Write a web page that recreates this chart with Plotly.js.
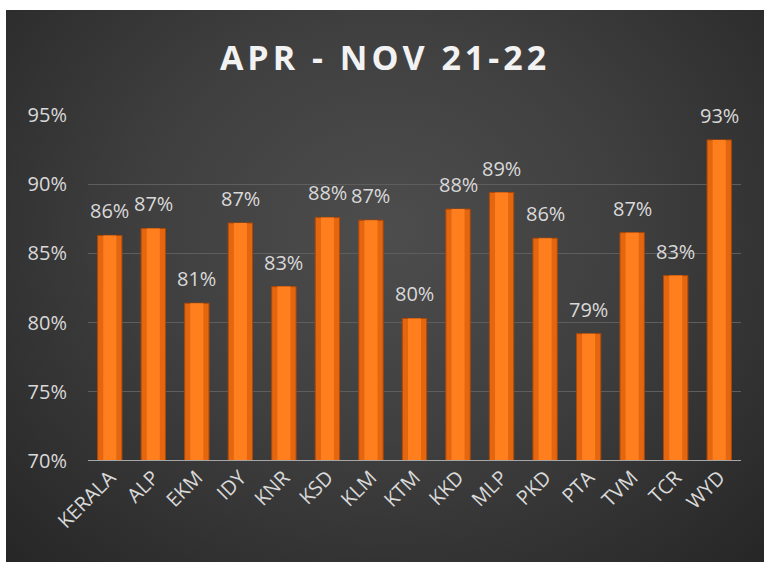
<!DOCTYPE html>
<html>
<head>
<meta charset="utf-8">
<script src="https://cdn.plot.ly/plotly-3.0.1.min.js"></script>
<style>
  html, body { margin: 0; padding: 0; background: #ffffff; }
  #chart {
    position: absolute; left: 6px; top: 10px; width: 758px; height: 552px;
    background: radial-gradient(ellipse at 50% 40%, #4d4d4d 0%, #3f3f3f 45%, #262626 100%);
  }
  .gtitle { letter-spacing: 4px; }
</style>
</head>
<body>
<div id="chart"></div>
<script>
const categories = ["KERALA","ALP","EKM","IDY","KNR","KSD","KLM","KTM","KKD","MLP","PKD","PTA","TVM","TCR","WYD"];
const values = [86.3, 86.8, 81.4, 87.2, 82.6, 87.6, 87.4, 80.3, 88.2, 89.4, 86.1, 79.2, 86.5, 83.4, 93.2];
const yTicks = [70, 75, 80, 85, 90, 95];
const yTickText = ["70%", "75%", "80%", "85%", "90%", "95%"];
const titleText = "APR - NOV 21-22";

const labelFont = { family: "Open Sans, sans-serif", size: 20, color: "#d9d9d9" };

const outer = {
  type: "bar", x: categories, y: values, width: 0.56,
  marker: { color: "#E4660E", line: { color: "#A9480A", width: 1 } },
  hoverinfo: "skip"
};
const inner = {
  type: "bar", x: categories, y: values, width: 0.3,
  marker: { color: "#FF7E1E", line: { width: 0 } },
  hoverinfo: "skip"
};

const annotations = categories.map((c, i) => ({
  x: c, y: values[i], xref: "x", yref: "y",
  text: Math.round(values[i]) + "%",
  showarrow: false, yanchor: "bottom", yshift: 9,
  font: labelFont
}));

const layout = {
  width: 758, height: 552,
  paper_bgcolor: "rgba(0,0,0,0)", plot_bgcolor: "rgba(0,0,0,0)",
  margin: { l: 82, r: 23, t: 105, b: 101 },
  barmode: "overlay", showlegend: false,
  title: {
    text: "<b>" + titleText + "</b>",
    font: { family: "Open Sans, sans-serif", size: 34, color: "#f2f2f2" },
    x: 0.5, xanchor: "center", y: 0.913, yanchor: "middle"
  },
  xaxis: {
    type: "category", tickangle: -45, showgrid: false, zeroline: false,
    showline: false, ticks: "",
    tickfont: { family: "Open Sans, sans-serif", size: 20, color: "#d9d9d9" }
  },
  yaxis: {
    range: [70, 95], tickmode: "array", tickvals: yTicks, ticktext: yTickText,
    showgrid: true, gridcolor: "#5e5e5e", gridwidth: 1,
    zeroline: false, showline: false, ticks: "", ticklabelstandoff: 20,
    tickfont: labelFont
  },
  annotations: annotations,
  shapes: [{
    type: "line", xref: "paper", yref: "y", x0: 0, x1: 1, y0: 70, y1: 70,
    line: { color: "#a6a6a6", width: 2 }
  }]
};

Plotly.newPlot("chart", [outer, inner], layout, { displayModeBar: false, staticPlot: true });
</script>
</body>
</html>
